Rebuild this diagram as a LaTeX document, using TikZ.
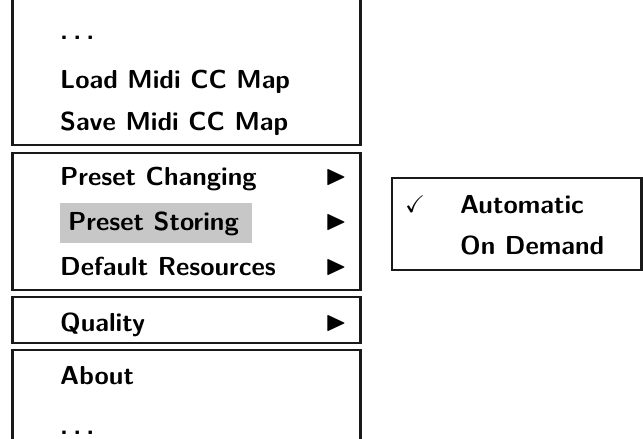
\documentclass[tikz,border=0pt]{standalone}
\usepackage{amssymb}
\begin{document}
\begin{tikzpicture}[x=1pt,y=-1pt,
  menu/.style={line width=2.6pt,draw=black!90},
  item/.style={anchor=base west,inner sep=0pt,font=\fontsize{26}{30}\selectfont\sffamily\bfseries},
  arr/.style={anchor=base west,inner sep=0pt,font=\fontsize{28}{32}\selectfont},
  chkst/.style={anchor=base west,inner sep=0pt,font=\fontsize{24}{28}\selectfont},
  hl/.style={fill=black!22,draw=none}]
\useasboundingbox (0,0) rectangle (643,439);
% menu boxes
\draw[menu] (12.5,-5) -- (12.5,145) -- (360.5,145) -- (360.5,-5);
\draw[menu] (12.5,153) rectangle (360.5,290);
\draw[menu] (12.5,297) rectangle (360.5,343);
\draw[menu] (12.5,445) -- (12.5,350) -- (360.5,350) -- (360.5,445);
\draw[menu] (392,178) rectangle (641.5,270);
% highlight
\fill[hl] (60,203) rectangle (252,243);
% items
\node[item] (dots1) at (60,39) {.\kern5.2pt.\kern5.2pt.};
\node[item] (load) at (60,88) {Load Midi CC Map};
\node[item] (save) at (60,130) {Save Midi CC Map};
\node[item] (pchg) at (60,185) {Preset Changing};
\node[item] (psto) at (68,230) {Preset Storing};
\node[item] (dres) at (60,275) {Default Resources};
\node[item] (qual) at (60,331) {Quality};
\node[item] (about) at (60,384) {About};
\node[item] (dots2) at (60,434) {.\kern5.2pt.\kern5.2pt.};
\node[arr] (a1) at (325,184) {$\blacktriangleright$};
\node[arr] (a2) at (325,229) {$\blacktriangleright$};
\node[arr] (a3) at (325,274) {$\blacktriangleright$};
\node[arr] (a4) at (325,330) {$\blacktriangleright$};
% submenu
\node[chkst] (chk) at (405,212) {$\checkmark$};
\node[item] (auto) at (460,213) {Automatic};
\node[item] (dem) at (460,254) {On Demand};
\end{tikzpicture}
\end{document}
